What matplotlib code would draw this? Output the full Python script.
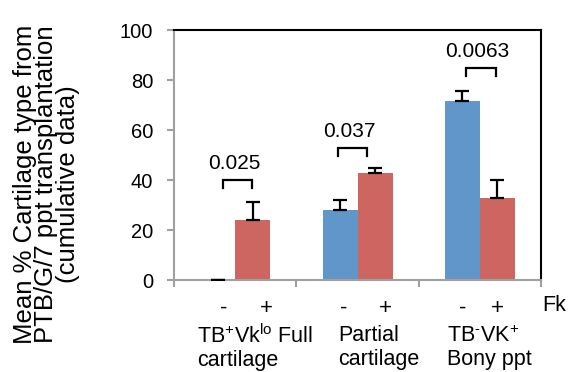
import numpy as np
import matplotlib
matplotlib.use("Agg")
import matplotlib.pyplot as plt
from matplotlib.transforms import blended_transform_factory

plt.rcParams['font.family'] = ['Liberation Sans', 'DejaVu Sans']
plt.rcParams['mathtext.fontset'] = 'custom'
plt.rcParams['mathtext.rm'] = 'Liberation Sans'
plt.rcParams['mathtext.it'] = 'Liberation Sans:italic'

### data
groups = ['TB$^{+}$Vk$^{\\mathrm{lo}}$ Full\ncartilage', 'Partial\ncartilage', 'TB$^{\\text{-}}$VK$^{+}$\nBony ppt']
minus_fk = [0, 28, 71.6]
minus_err = [0, 4, 4.1]
plus_fk = [24, 42.9, 32.9]
plus_err = [7.3, 2.1, 7.1]
pvalues = ['0.025', '0.037', '0.0063']
bracket_y = [40, 52.7, 84.7]

### colours / layout
blue = '#6096c9'
red = '#cd6660'
w = 0.286
x = np.arange(len(groups))

fig = plt.figure(figsize=(5.71, 3.72), dpi=100)
ax = fig.add_axes([0.3047, 0.2473, 0.643, 0.672])

ax.bar(x + 0.5 - w / 2, minus_fk, w, color=blue, zorder=2)
ax.bar(x + 0.5 + w / 2, plus_fk, w, color=red, zorder=2)
ax.errorbar(x + 0.5 - w / 2, minus_fk, yerr=[np.zeros(3), minus_err], fmt='none',
            ecolor='black', elinewidth=1.6, capsize=5, capthick=1.6, zorder=3)
ax.errorbar(x + 0.5 + w / 2, plus_fk, yerr=[np.zeros(3), plus_err], fmt='none',
            ecolor='black', elinewidth=1.6, capsize=5, capthick=1.6, zorder=3)

### p-value brackets
br_left = [0.40, 0.34, 0.39]
br_right = [0.64, 0.58, 0.63]
for i in range(3):
    x0, x1 = i + br_left[i], i + br_right[i]
    y = bracket_y[i]
    ax.plot([x0, x0, x1, x1], [y - 3, y, y, y - 3], color='black', lw=1.6,
            solid_joinstyle='miter')
    ax.text((x0 + x1) / 2 - 0.03, y + 3, pvalues[i], ha='center', va='bottom',
            fontsize=15)

ax.set_xlim(0, 3)
ax.set_ylim(0, 100)
ax.set_yticks(np.arange(0, 101, 20))
ax.tick_params(axis='y', labelsize=14.5, color='#a0a0a0', length=5, width=1.5, pad=10)

### group boundaries as minor ticks, -/+ labels as major
ax.set_xticks([0, 1, 2, 3], minor=True)
ax.tick_params(axis='x', which='minor', length=5, width=1.5, color='#a0a0a0')
fk_pos = [0.408, 0.751, 1.384, 1.727, 2.359, 2.645]
ax.set_xticks(fk_pos)
ax.set_xticklabels(['-', '+'] * 3, fontsize=16)
ax.tick_params(axis='x', which='major', length=0, pad=13)

for s in ['left', 'bottom']:
    ax.spines[s].set_color('#a0a0a0')
    ax.spines[s].set_linewidth(1.5)
for s in ['top', 'right']:
    ax.spines[s].set_color('black')
    ax.spines[s].set_linewidth(1.5)

trans = blended_transform_factory(ax.transData, ax.transAxes)
label_x = [0.188, 1.339, 2.229]
for i, g in enumerate(groups):
    ax.text(label_x[i], -0.27, g, transform=trans, ha='left', va='center',
            fontsize=15.5, linespacing=1.15)
ax.text(3.01, -0.1, 'Fk', transform=trans, ha='left', va='center', fontsize=15.5)

fig.text(0.081, 0.505, 'Mean % Cartilage type from\nPTB/G/7 ppt transplantation\n(cumulative data)',
         rotation=90, ha='center', va='center', fontsize=18.5, linespacing=0.86)

fig.savefig('out.png', dpi=100)
